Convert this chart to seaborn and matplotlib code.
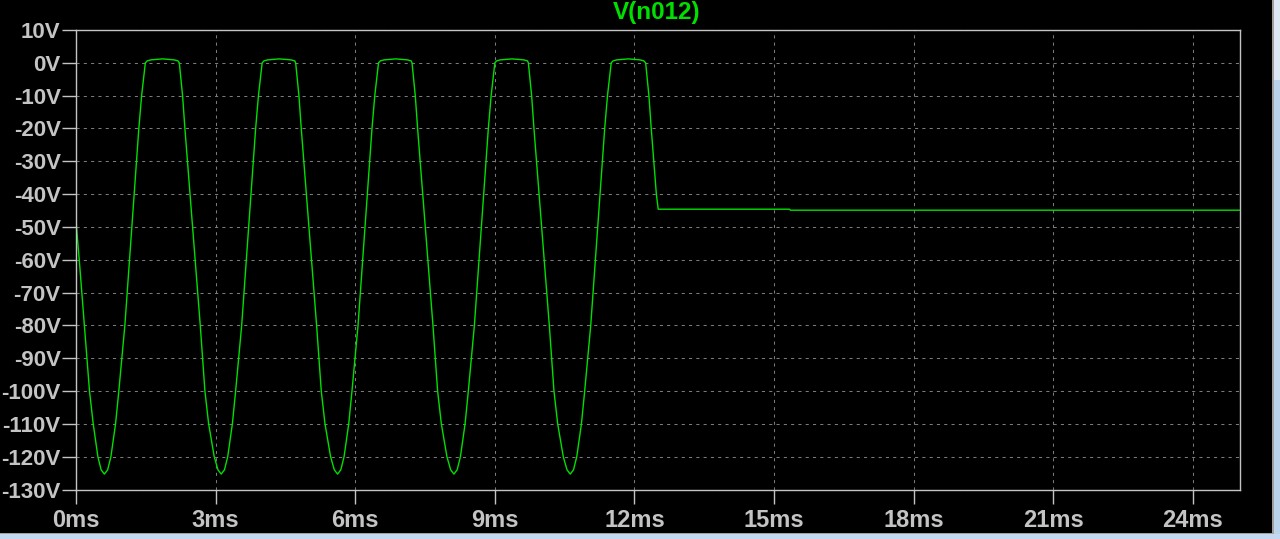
import pandas as pd
import seaborn as sns
from matplotlib import pyplot as plt
from matplotlib.patches import Rectangle

# V(n012) transient trace (time in ms, volts)
t_ms = [
    0.00, 0.01, 0.07, 0.18, 0.29, 0.37, 0.47, 0.54, 0.61, 0.68, 0.75, 0.85, 0.92, 1.05, 1.15, 1.25,
    1.35, 1.41, 1.49, 1.53, 1.61, 1.86, 2.11, 2.19,
    2.22, 2.29, 2.34, 2.45, 2.56, 2.67, 2.77, 2.85, 2.97, 3.05, 3.12, 3.19, 3.26, 3.36, 3.43, 3.56,
    3.66, 3.76, 3.86, 3.92, 4.00, 4.04, 4.12, 4.37, 4.62, 4.70,
    4.72, 4.79, 4.84, 4.95, 5.06, 5.17, 5.27, 5.35, 5.47, 5.55, 5.62, 5.69, 5.76, 5.86, 5.93, 6.06,
    6.16, 6.26, 6.36, 6.42, 6.50, 6.54, 6.62, 6.87, 7.12, 7.20,
    7.22, 7.29, 7.34, 7.45, 7.56, 7.67, 7.77, 7.85, 7.97, 8.05, 8.12, 8.19, 8.26, 8.36, 8.43, 8.56,
    8.66, 8.76, 8.86, 8.92, 9.00, 9.04, 9.12, 9.37, 9.62, 9.70,
    9.72, 9.79, 9.84, 9.95, 10.06, 10.17, 10.27, 10.35, 10.47, 10.55, 10.62, 10.69, 10.76, 10.86,
    10.93, 11.06, 11.16, 11.26, 11.36, 11.42, 11.50, 11.54, 11.62, 11.87, 12.12, 12.20,
    12.24, 12.31, 12.36, 12.47, 12.51, 15.33, 15.35, 25.00,
]
v_n012 = [
    -46.5, -50, -60, -80, -100, -110, -120, -124, -125.3, -124, -120, -110, -100, -80, -60, -40,
    -20, -10, 0.0, 0.6, 0.9, 1.2, 0.9, 0.6,
    0.0, -10, -20, -40, -60, -80, -100, -110, -120, -124, -125.3, -124, -120, -110, -100, -80,
    -60, -40, -20, -10, 0.0, 0.6, 0.9, 1.2, 0.9, 0.6,
    0.0, -10, -20, -40, -60, -80, -100, -110, -120, -124, -125.3, -124, -120, -110, -100, -80,
    -60, -40, -20, -10, 0.0, 0.6, 0.9, 1.2, 0.9, 0.6,
    0.0, -10, -20, -40, -60, -80, -100, -110, -120, -124, -125.3, -124, -120, -110, -100, -80,
    -60, -40, -20, -10, 0.0, 0.6, 0.9, 1.2, 0.9, 0.6,
    0.0, -10, -20, -40, -60, -80, -100, -110, -120, -124, -125.3, -124, -120, -110,
    -100, -80, -60, -40, -20, -10, 0.0, 0.6, 0.9, 1.2, 0.9, 0.6,
    0.0, -10, -20, -40, -44.6, -44.6, -44.9, -44.9,
]

x_ticks = [0, 3, 6, 9, 12, 15, 18, 21, 24]
y_ticks = [10, 0, -10, -20, -30, -40, -50, -60, -70, -80, -90, -100, -110, -120, -130]
title = 'V(n012)'

W, H = 1280, 539
FG = '#c4c4c4'
TRACE = '#00e000'

sns.set_style('ticks', rc={'axes.facecolor': 'black', 'figure.facecolor': 'black',
                           'axes.edgecolor': FG})
plt.rcParams['font.family'] = ['Liberation Sans', 'DejaVu Sans']
plt.rcParams['font.weight'] = 'bold'

df = pd.DataFrame({'t_ms': t_ms, 'v': v_n012})

fig = plt.figure(figsize=(W / 100, H / 100), dpi=100)
ax = fig.add_axes([76 / W, 1 - 489.5 / H, (1239.5 - 76) / W, (489.5 - 30) / H])

sns.lineplot(data=df, x='t_ms', y='v', ax=ax, color=TRACE, linewidth=1.0,
             estimator=None, sort=False, legend=False)

ax.set_xlim(0, 25)
ax.set_ylim(-130, 10)
ax.set_xticks(x_ticks)
ax.set_xticklabels([f'{x}ms' for x in x_ticks])
ax.set_yticks(y_ticks)
ax.set_yticklabels([f'{y}V' for y in y_ticks])
ax.set_xlabel('')
ax.set_ylabel('')

ax.set_axisbelow(True)
ax.grid(True, color='#7a7a7a', linestyle=(0, (3, 4)), linewidth=0.75)
for s in ax.spines.values():
    s.set_visible(True)
    s.set_color(FG)
    s.set_linewidth(1.0)
ax.tick_params(axis='both', direction='out', length=10, width=1.0, color=FG,
               labelcolor=FG, labelsize=16)
ax.tick_params(axis='x', pad=4, labelsize=17)
ax.tick_params(axis='y', pad=1)

fig.text(657 / W, 1 - 13 / H, title, color=TRACE, fontsize=17.5, fontweight='bold',
         ha='center', va='center')

# window chrome on the right and bottom edge
fig.add_artist(Rectangle((1272 / W, 0), 8 / W, 1, transform=fig.transFigure,
                         facecolor='#bcd3ec', edgecolor='none'))
fig.add_artist(Rectangle((1274 / W, 1 - 80 / H), 6 / W, 80 / H, transform=fig.transFigure,
                         facecolor='#dce8f6', edgecolor='none'))
fig.add_artist(Rectangle((0, 0), 1, 5 / H, transform=fig.transFigure,
                         facecolor='#c4d8f0', edgecolor='none'))
fig.add_artist(Rectangle((1272 / W, 5 / H), 1.5 / W, 1 - 5 / H, transform=fig.transFigure,
                         facecolor='#a0a0a0', edgecolor='none'))
fig.add_artist(Rectangle((0, 5 / H), 1272 / W, 1.5 / H, transform=fig.transFigure,
                         facecolor='#a0a0a0', edgecolor='none'))

fig.savefig('out.png', dpi=100, facecolor='black')
